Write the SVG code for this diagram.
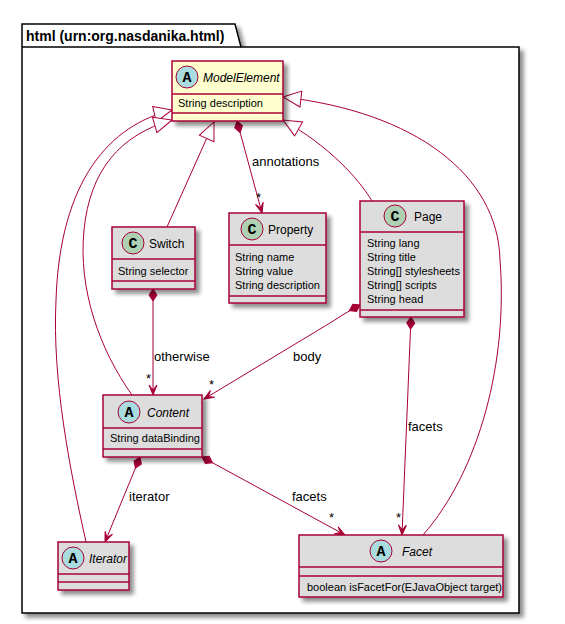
<svg xmlns="http://www.w3.org/2000/svg" width="565" height="624" viewBox="0 0 565 624">
<style>
.box{fill:#DDDDDD;stroke:#A80036;stroke-width:1.5}
.me{fill:#FEFECE}
.sep{stroke:#A80036;stroke-width:1.5}
.name{font-family:"Liberation Sans",Arial,sans-serif;font-size:12px;fill:#000}
.abs{font-style:italic}
.attr{font-family:"Liberation Sans",Arial,sans-serif;font-size:11px;fill:#000}
.lbl{font-family:"Liberation Sans",Arial,sans-serif;font-size:13px;fill:#000}
.circA{fill:#A9DCDF;stroke:#A80036;stroke-width:1}
.circC{fill:#ADD1B2;stroke:#A80036;stroke-width:1}
.letter{font-family:"Liberation Mono","DejaVu Sans Mono",monospace;font-size:15px;font-weight:bold;fill:#000;text-anchor:middle}
.edge{fill:none;stroke:#A80036;stroke-width:1}
.pkg{fill:#FFFFFF;stroke:#000;stroke-width:1.5}
.pkgt{font-family:"Liberation Sans",Arial,sans-serif;font-size:14px;font-weight:bold;fill:#000}
</style>
<defs>
<filter id="sh" x="-20%" y="-20%" width="150%" height="150%">
<feGaussianBlur in="SourceAlpha" stdDeviation="2"/>
<feOffset dx="4" dy="4" result="o"/>
<feComponentTransfer><feFuncA type="linear" slope="0.45"/></feComponentTransfer>
<feMerge><feMergeNode/><feMergeNode in="SourceGraphic"/></feMerge>
</filter>
<marker id="ext" markerUnits="userSpaceOnUse" viewBox="0 0 20 20" markerWidth="20" markerHeight="20" refX="19" refY="10" orient="auto">
<path d="M1,2 L19,10 L1,18 Z" fill="#FFFFFF" stroke="#A80036" stroke-width="1"/>
</marker>
<marker id="arr" markerUnits="userSpaceOnUse" viewBox="0 0 12 10" markerWidth="12" markerHeight="10" refX="11" refY="5" orient="auto">
<path d="M1,1 L11,5 L1,9 L6,5 Z" fill="#A80036" stroke="#A80036" stroke-width="1"/>
</marker>
<marker id="dia" markerUnits="userSpaceOnUse" viewBox="0 0 14 10" markerWidth="14" markerHeight="10" refX="1" refY="5" orient="auto">
<path d="M1,5 L7,1 L13,5 L7,9 Z" fill="#A80036" stroke="#A80036" stroke-width="1"/>
</marker>
</defs>
<rect width="565" height="624" fill="#FFFFFF"/>

<g id="package">
<path class="pkg" filter="url(#sh)" d="M22,24 L235,24 L241,47 L519,47 L519,613 L22,613 Z"/>
<line x1="22" y1="47" x2="241" y2="47" stroke="#000" stroke-width="1.5"/>
<text class="pkgt" x="26" y="41">html (urn:org.nasdanika.html)</text>
</g>

<g id="connectors">
<path class="edge" marker-end="url(#ext)" d="M86,542 C70,470 52,380 56,300 C60,180 110,125 172,110"/>
<path class="edge" marker-end="url(#ext)" d="M132,395 C100,350 78,290 84,230 C90,170 120,135 172,120"/>
<path class="edge" marker-end="url(#ext)" d="M167,227 L214,122"/>
<path class="edge" marker-end="url(#ext)" d="M372,201 C358,178 330,147 283,120"/>
<path class="edge" marker-end="url(#ext)" d="M423,535 C480,470 508,360 500,260 C498,175 415,112 283,97"/>
<path class="edge" marker-start="url(#dia)" marker-end="url(#arr)" d="M237,121 L262,213"/>
<path class="edge" marker-start="url(#dia)" marker-end="url(#arr)" d="M153,289 L153,395"/>
<path class="edge" marker-start="url(#dia)" marker-end="url(#arr)" d="M360,305 Q345,313 330,323 L204,399"/>
<path class="edge" marker-start="url(#dia)" marker-end="url(#arr)" d="M411,317 L402,535"/>
<path class="edge" marker-start="url(#dia)" marker-end="url(#arr)" d="M202,457 L345,535"/>
<path class="edge" marker-start="url(#dia)" marker-end="url(#arr)" d="M140,457 L105,542"/>
<text class="lbl" x="252" y="166">annotations</text>
<text class="lbl" x="256" y="202">*</text>
<text class="lbl" x="154" y="361">otherwise</text>
<text class="lbl" x="146" y="383">*</text>
<text class="lbl" x="293" y="361">body</text>
<text class="lbl" x="209" y="389">*</text>
<text class="lbl" x="408" y="431">facets</text>
<text class="lbl" x="396" y="522">*</text>
<text class="lbl" x="292" y="501">facets</text>
<text class="lbl" x="329" y="522">*</text>
<text class="lbl" x="129" y="501">iterator</text>
</g>

<g id="ModelElement">
<rect class="box me" filter="url(#sh)" x="172" y="61" width="111" height="60"/>
<line class="sep" x1="172" y1="94" x2="283" y2="94"/>
<line class="sep" x1="172" y1="113" x2="283" y2="113"/>
<circle class="circA" cx="187" cy="77" r="11"/>
<text class="letter" x="187" y="82">A</text>
<text class="name abs" x="203" y="81.5">ModelElement</text>
<text class="attr" x="178" y="107">String description</text>
</g>

<g id="Property">
<rect class="box" filter="url(#sh)" x="229" y="213" width="97" height="90"/>
<line class="sep" x1="229" y1="245" x2="326" y2="245"/>
<line class="sep" x1="229" y1="296" x2="326" y2="296"/>
<circle class="circC" cx="252" cy="229" r="11"/>
<text class="letter" x="252" y="234">C</text>
<text class="name" x="268" y="234">Property</text>
<text class="attr" x="235" y="261">String name</text>
<text class="attr" x="235" y="275">String value</text>
<text class="attr" x="235" y="289">String description</text>
</g>

<g id="Switch">
<rect class="box" filter="url(#sh)" x="112" y="227" width="83" height="62"/>
<line class="sep" x1="112" y1="259" x2="195" y2="259"/>
<line class="sep" x1="112" y1="281" x2="195" y2="281"/>
<circle class="circC" cx="133" cy="243" r="11"/>
<text class="letter" x="133" y="248">C</text>
<text class="name" x="149" y="248">Switch</text>
<text class="attr" x="118" y="275">String selector</text>
</g>

<g id="Page">
<rect class="box" filter="url(#sh)" x="360" y="201" width="104" height="116"/>
<line class="sep" x1="360" y1="232" x2="464" y2="232"/>
<line class="sep" x1="360" y1="310" x2="464" y2="310"/>
<circle class="circC" cx="395" cy="216" r="11"/>
<text class="letter" x="395" y="221">C</text>
<text class="name" x="414" y="221">Page</text>
<text class="attr" x="367" y="247">String lang</text>
<text class="attr" x="367" y="261">String title</text>
<text class="attr" x="367" y="275">String[] stylesheets</text>
<text class="attr" x="367" y="289">String[] scripts</text>
<text class="attr" x="367" y="303">String head</text>
</g>

<g id="Content">
<rect class="box" filter="url(#sh)" x="103" y="395" width="99" height="62"/>
<line class="sep" x1="103" y1="428" x2="202" y2="428"/>
<line class="sep" x1="103" y1="449" x2="202" y2="449"/>
<circle class="circA" cx="129" cy="412" r="11"/>
<text class="letter" x="129" y="417">A</text>
<text class="name abs" x="147" y="416.5">Content</text>
<text class="attr" x="110" y="442">String dataBinding</text>
</g>

<g id="Iterator">
<rect class="box" filter="url(#sh)" x="58" y="542" width="71" height="48"/>
<line class="sep" x1="58" y1="574" x2="129" y2="574"/>
<line class="sep" x1="58" y1="582" x2="129" y2="582"/>
<circle class="circA" cx="73" cy="558" r="11"/>
<text class="letter" x="73" y="563">A</text>
<text class="name abs" x="89" y="562.5">Iterator</text>
</g>

<g id="Facet">
<rect class="box" filter="url(#sh)" x="299" y="535" width="204" height="62"/>
<line class="sep" x1="299" y1="567" x2="503" y2="567"/>
<line class="sep" x1="299" y1="576" x2="503" y2="576"/>
<circle class="circA" cx="381" cy="551" r="11"/>
<text class="letter" x="381" y="556">A</text>
<text class="name abs" x="402" y="556">Facet</text>
<text class="attr" x="307" y="591">boolean isFacetFor(EJavaObject target)</text>
</g>
</svg>
